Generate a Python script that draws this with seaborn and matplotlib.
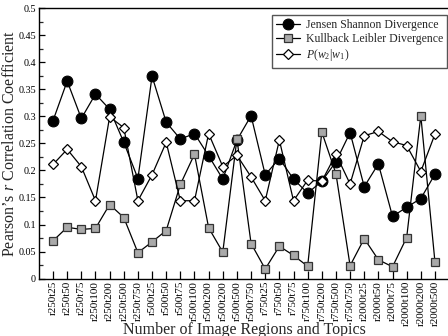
import matplotlib
matplotlib.use("Agg")
import matplotlib.pyplot as plt
import seaborn as sns
import numpy as np
import pandas as pd
from matplotlib.ticker import MultipleLocator, FuncFormatter

labels = ["r250t25", "r250t50", "r250t75", "r250t100", "r250t200", "r250t500", "r250t750",
          "r500t25", "r500t50", "r500t75", "r500t100", "r500t200", "r500t200", "r500t500",
          "r500t750", "r750t25", "r750t50", "r750t75", "r750t100", "r750t200", "r750t500",
          "r750t750", "r2000t25", "r2000t50", "r2000t75", "r2000t100", "r2000t200", "r2000t500"]

js = [0.292, 0.365, 0.296, 0.341, 0.313, 0.252, 0.185,
      0.374, 0.289, 0.258, 0.268, 0.227, 0.184, 0.256,
      0.301, 0.192, 0.222, 0.184, 0.158, 0.180, 0.216,
      0.270, 0.170, 0.212, 0.115, 0.132, 0.148, 0.193]

kl = [0.070, 0.095, 0.091, 0.093, 0.137, 0.113, 0.048,
      0.068, 0.089, 0.174, 0.230, 0.094, 0.049, 0.258,
      0.065, 0.018, 0.060, 0.043, 0.023, 0.271, 0.194,
      0.024, 0.074, 0.035, 0.022, 0.076, 0.301, 0.031]

pw = [0.211, 0.239, 0.207, 0.144, 0.299, 0.279, 0.144,
      0.192, 0.252, 0.144, 0.144, 0.268, 0.207, 0.228,
      0.188, 0.144, 0.256, 0.144, 0.182, 0.180, 0.230,
      0.175, 0.264, 0.272, 0.253, 0.246, 0.198, 0.267]

series_names = ["Jensen Shannon Divergence", "Kullback Leibler Divergence", r"$P(w_2|w_1)$"]

sns.set_theme(style="white")
plt.rcParams['font.family'] = ['Liberation Serif', 'DejaVu Serif']
plt.rcParams['mathtext.fontset'] = 'custom'
plt.rcParams['mathtext.rm'] = 'Liberation Serif'
plt.rcParams['mathtext.it'] = 'Liberation Serif:italic'

fig = plt.figure(figsize=(4.48, 3.36), dpi=100)
ax = fig.add_axes([38.9 / 448, (336 - 278.7) / 336, (449.1 - 38.9) / 448, (278.7 - 8) / 336])

idx = np.arange(len(labels))
df = pd.DataFrame({"idx": idx, "js": js, "kl": kl, "pw": pw})

sns.lineplot(data=df, x="idx", y="js", ax=ax, color="black", lw=0.9, marker="o",
             markersize=7.8, markerfacecolor="black", markeredgecolor="black",
             label=series_names[0], sort=False, zorder=3)
sns.lineplot(data=df, x="idx", y="kl", ax=ax, color="black", lw=0.9, marker="s",
             markersize=6, markerfacecolor="#a9a9a9", markeredgecolor="#333333",
             markeredgewidth=0.9, label=series_names[1], sort=False, zorder=4)
sns.lineplot(data=df, x="idx", y="pw", ax=ax, color="black", lw=0.9, marker="D",
             markersize=5.6, markerfacecolor="white", markeredgecolor="black",
             markeredgewidth=0.9, label=series_names[2], sort=False, zorder=5)

ax.set_xlim(-1, len(labels))
ax.set_ylim(0, 0.5)
ax.set_xticks(idx)
ax.set_xticklabels(labels, rotation=90, fontsize=8.0)
ax.yaxis.set_major_locator(MultipleLocator(0.05))
ax.yaxis.set_minor_locator(MultipleLocator(0.025))
ax.yaxis.set_major_formatter(FuncFormatter(lambda v, p: "0" if abs(v) < 1e-9 else ("%g" % round(v, 3))))
ax.tick_params(axis="y", which="major", direction="in", length=4.5, width=0.9, labelsize=7.3, pad=2,
               left=True, right=False, colors="black")
ax.tick_params(axis="y", which="minor", direction="in", length=3, width=0.9, left=True, right=False)
ax.tick_params(axis="x", which="major", direction="in", length=5.5, width=0.9, pad=1.5,
               bottom=True, top=False, colors="black")

for s in ax.spines.values():
    s.set_color("black")
    s.set_linewidth(1.0)

ax.set_xlabel("Number of Image Regions and Topics", fontsize=11.5)
ax.xaxis.set_label_coords(0.5, -0.16)
ax.set_ylabel("Pearson\u2019s $r$ Correlation Coefficient", fontsize=11.5)
ax.yaxis.set_label_coords(-0.05, 0.5)

leg = ax.legend(loc="upper right", bbox_to_anchor=(0.995, 0.974), borderaxespad=0,
                fontsize=8.5, frameon=True, fancybox=False, framealpha=1,
                edgecolor="#555555", handlelength=2.0, handletextpad=0.5,
                labelspacing=0.18, borderpad=0.35)
leg.get_frame().set_linewidth(1.0)

fig.savefig("out.png", dpi=100)
